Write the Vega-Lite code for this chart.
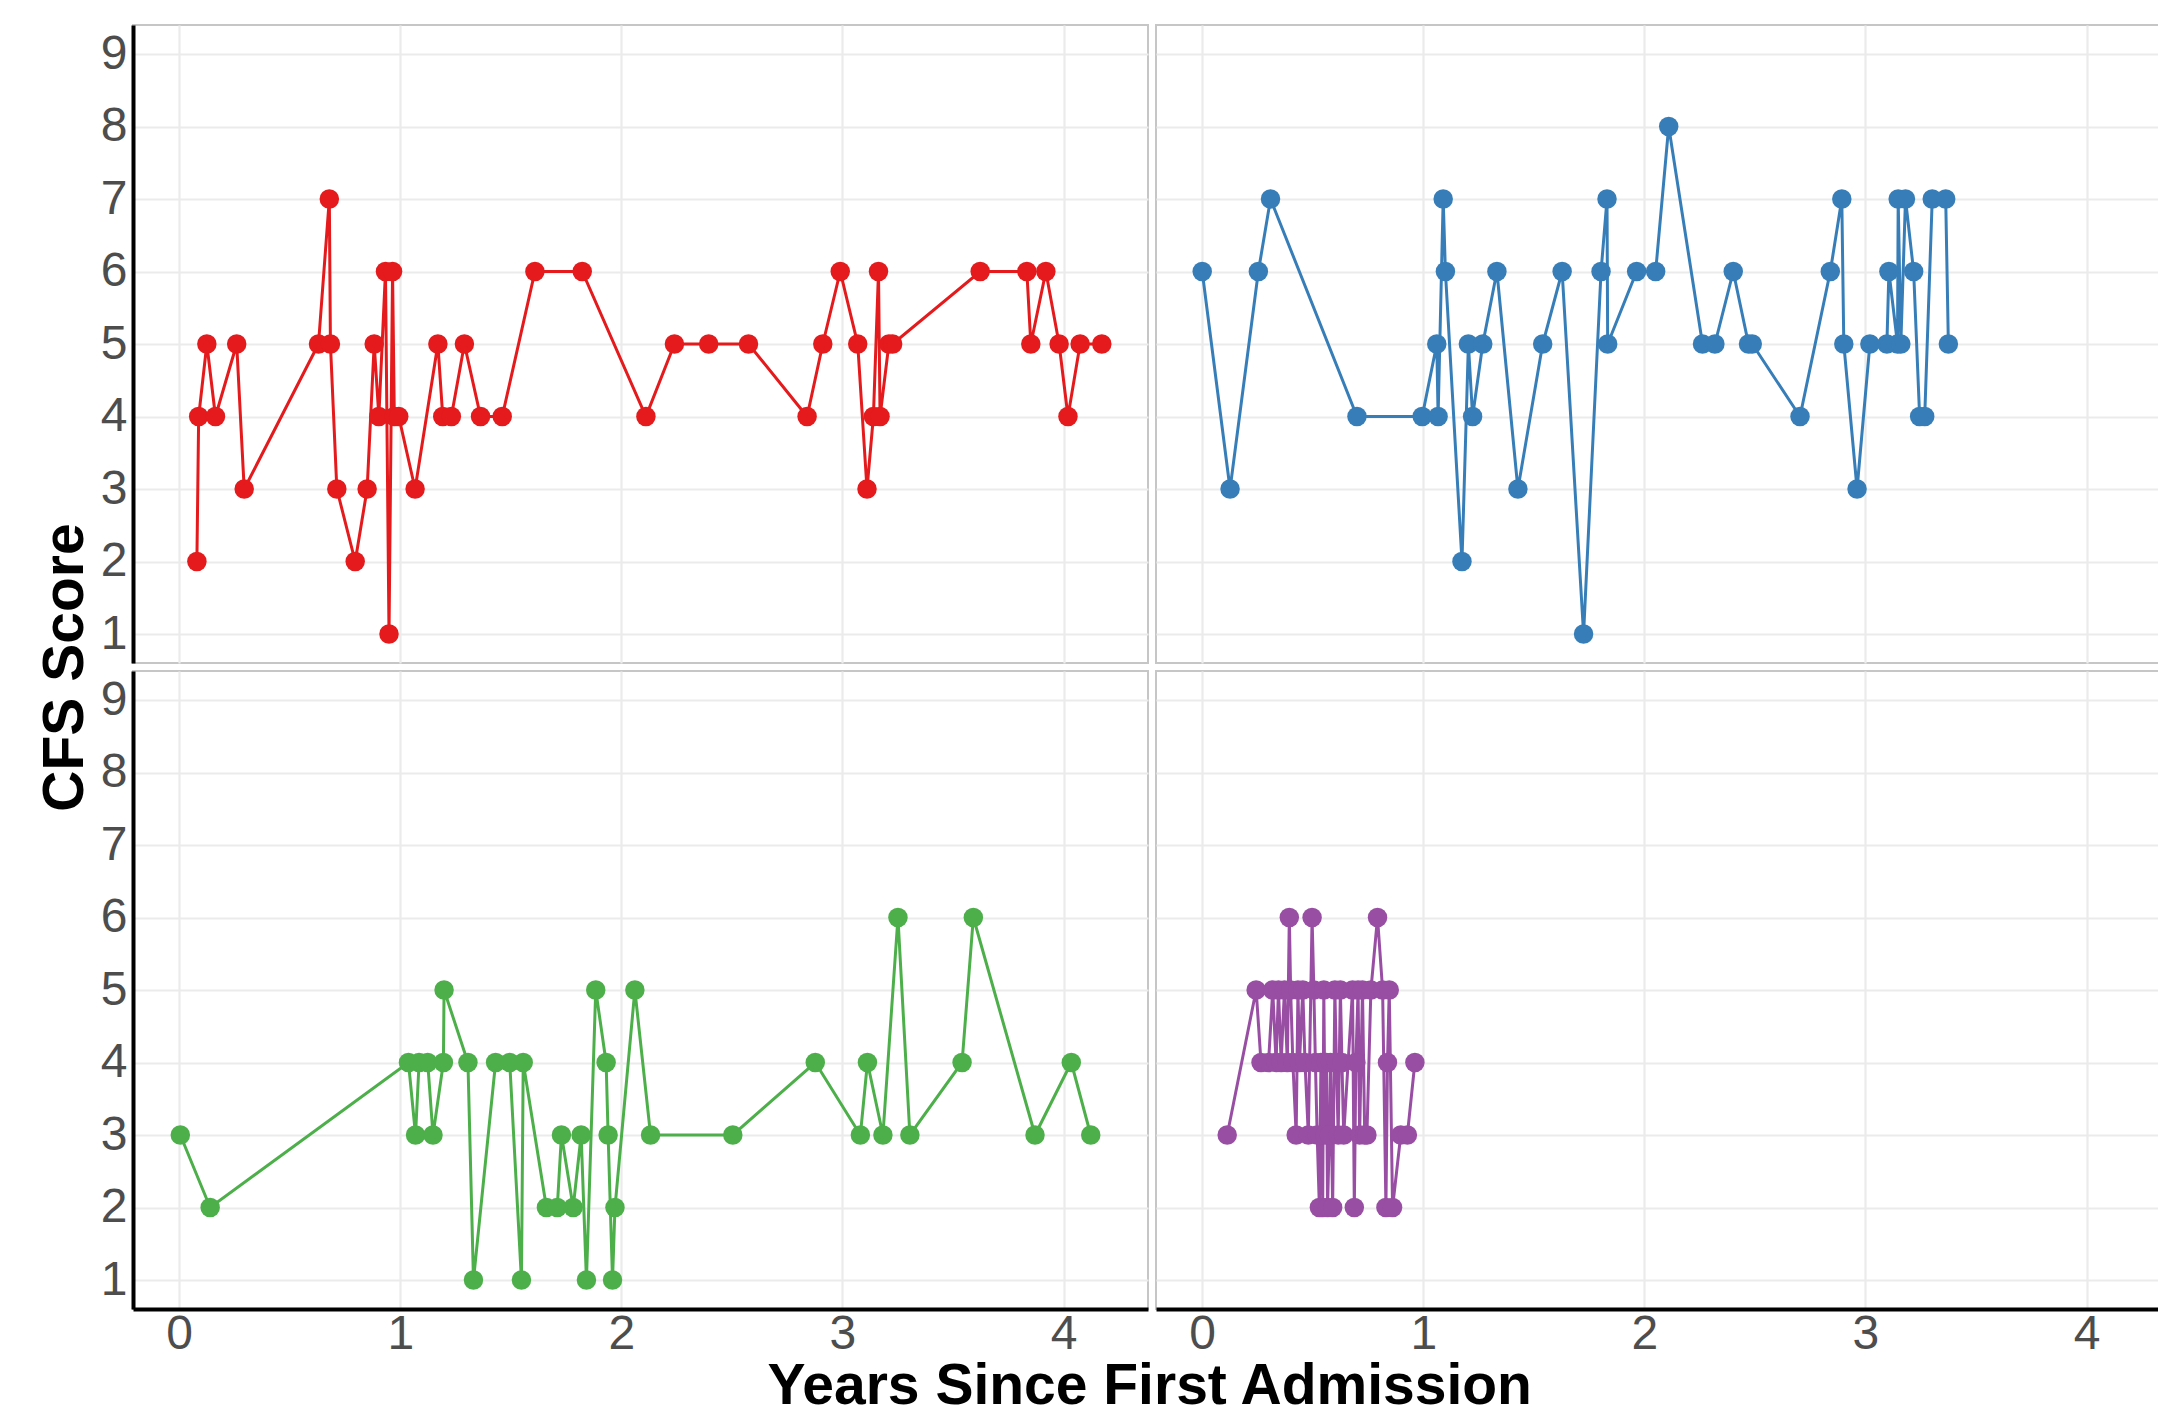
{
  "$schema": "https://vega.github.io/schema/vega-lite/v6.json",
  "background": "white",
  "padding": {"left": 37, "top": 24, "right": 0, "bottom": 0},
  "config": {
    "view": {"stroke": "#C6C6C6", "strokeWidth": 2},
    "font": "Liberation Sans",
    "axis": {
      "labelFont": "Liberation Sans",
      "labelFontSize": 48,
      "labelColor": "#4D4D4D",
      "ticks": false,
      "tickSize": 0,
      "domainColor": "#000000",
      "domainWidth": 4,
      "gridColor": "#EBEBEB",
      "gridWidth": 2.2,
      "labelPadding": 1,
      "title": null
    },
    "axisY": {"labelPadding": 6},
    "concat": {"spacing": 6}
  },
  "datasets": {
    "cfs": [
      {"patient": "A", "years": 0.08, "cfs": 2},
      {"patient": "A", "years": 0.088, "cfs": 4},
      {"patient": "A", "years": 0.125, "cfs": 5},
      {"patient": "A", "years": 0.164, "cfs": 4},
      {"patient": "A", "years": 0.26, "cfs": 5},
      {"patient": "A", "years": 0.294, "cfs": 3},
      {"patient": "A", "years": 0.63, "cfs": 5},
      {"patient": "A", "years": 0.679, "cfs": 7},
      {"patient": "A", "years": 0.684, "cfs": 5},
      {"patient": "A", "years": 0.713, "cfs": 3},
      {"patient": "A", "years": 0.796, "cfs": 2},
      {"patient": "A", "years": 0.85, "cfs": 3},
      {"patient": "A", "years": 0.882, "cfs": 5},
      {"patient": "A", "years": 0.903, "cfs": 4},
      {"patient": "A", "years": 0.933, "cfs": 6},
      {"patient": "A", "years": 0.949, "cfs": 1},
      {"patient": "A", "years": 0.965, "cfs": 6},
      {"patient": "A", "years": 0.973, "cfs": 4},
      {"patient": "A", "years": 0.993, "cfs": 4},
      {"patient": "A", "years": 1.067, "cfs": 3},
      {"patient": "A", "years": 1.17, "cfs": 5},
      {"patient": "A", "years": 1.192, "cfs": 4},
      {"patient": "A", "years": 1.231, "cfs": 4},
      {"patient": "A", "years": 1.29, "cfs": 5},
      {"patient": "A", "years": 1.363, "cfs": 4},
      {"patient": "A", "years": 1.461, "cfs": 4},
      {"patient": "A", "years": 1.609, "cfs": 6},
      {"patient": "A", "years": 1.823, "cfs": 6},
      {"patient": "A", "years": 2.111, "cfs": 4},
      {"patient": "A", "years": 2.24, "cfs": 5},
      {"patient": "A", "years": 2.395, "cfs": 5},
      {"patient": "A", "years": 2.575, "cfs": 5},
      {"patient": "A", "years": 2.84, "cfs": 4},
      {"patient": "A", "years": 2.911, "cfs": 5},
      {"patient": "A", "years": 2.99, "cfs": 6},
      {"patient": "A", "years": 3.069, "cfs": 5},
      {"patient": "A", "years": 3.111, "cfs": 3},
      {"patient": "A", "years": 3.14, "cfs": 4},
      {"patient": "A", "years": 3.163, "cfs": 6},
      {"patient": "A", "years": 3.17, "cfs": 4},
      {"patient": "A", "years": 3.21, "cfs": 5},
      {"patient": "A", "years": 3.227, "cfs": 5},
      {"patient": "A", "years": 3.623, "cfs": 6},
      {"patient": "A", "years": 3.834, "cfs": 6},
      {"patient": "A", "years": 3.852, "cfs": 5},
      {"patient": "A", "years": 3.92, "cfs": 6},
      {"patient": "A", "years": 3.98, "cfs": 5},
      {"patient": "A", "years": 4.02, "cfs": 4},
      {"patient": "A", "years": 4.075, "cfs": 5},
      {"patient": "A", "years": 4.173, "cfs": 5},
      {"patient": "B", "years": 0.0, "cfs": 6},
      {"patient": "B", "years": 0.126, "cfs": 3},
      {"patient": "B", "years": 0.254, "cfs": 6},
      {"patient": "B", "years": 0.309, "cfs": 7},
      {"patient": "B", "years": 0.70, "cfs": 4},
      {"patient": "B", "years": 0.995, "cfs": 4},
      {"patient": "B", "years": 1.061, "cfs": 5},
      {"patient": "B", "years": 1.067, "cfs": 4},
      {"patient": "B", "years": 1.09, "cfs": 7},
      {"patient": "B", "years": 1.10, "cfs": 6},
      {"patient": "B", "years": 1.175, "cfs": 2},
      {"patient": "B", "years": 1.204, "cfs": 5},
      {"patient": "B", "years": 1.223, "cfs": 4},
      {"patient": "B", "years": 1.269, "cfs": 5},
      {"patient": "B", "years": 1.333, "cfs": 6},
      {"patient": "B", "years": 1.428, "cfs": 3},
      {"patient": "B", "years": 1.54, "cfs": 5},
      {"patient": "B", "years": 1.628, "cfs": 6},
      {"patient": "B", "years": 1.725, "cfs": 1},
      {"patient": "B", "years": 1.804, "cfs": 6},
      {"patient": "B", "years": 1.831, "cfs": 7},
      {"patient": "B", "years": 1.834, "cfs": 5},
      {"patient": "B", "years": 1.965, "cfs": 6},
      {"patient": "B", "years": 2.051, "cfs": 6},
      {"patient": "B", "years": 2.11, "cfs": 8},
      {"patient": "B", "years": 2.263, "cfs": 5},
      {"patient": "B", "years": 2.319, "cfs": 5},
      {"patient": "B", "years": 2.402, "cfs": 6},
      {"patient": "B", "years": 2.471, "cfs": 5},
      {"patient": "B", "years": 2.488, "cfs": 5},
      {"patient": "B", "years": 2.704, "cfs": 4},
      {"patient": "B", "years": 2.841, "cfs": 6},
      {"patient": "B", "years": 2.893, "cfs": 7},
      {"patient": "B", "years": 2.902, "cfs": 5},
      {"patient": "B", "years": 2.962, "cfs": 3},
      {"patient": "B", "years": 3.02, "cfs": 5},
      {"patient": "B", "years": 3.097, "cfs": 5},
      {"patient": "B", "years": 3.106, "cfs": 6},
      {"patient": "B", "years": 3.145, "cfs": 5},
      {"patient": "B", "years": 3.148, "cfs": 7},
      {"patient": "B", "years": 3.16, "cfs": 5},
      {"patient": "B", "years": 3.181, "cfs": 7},
      {"patient": "B", "years": 3.218, "cfs": 6},
      {"patient": "B", "years": 3.245, "cfs": 4},
      {"patient": "B", "years": 3.268, "cfs": 4},
      {"patient": "B", "years": 3.302, "cfs": 7},
      {"patient": "B", "years": 3.363, "cfs": 7},
      {"patient": "B", "years": 3.375, "cfs": 5},
      {"patient": "C", "years": 0.005, "cfs": 3},
      {"patient": "C", "years": 0.14, "cfs": 2},
      {"patient": "C", "years": 1.037, "cfs": 4},
      {"patient": "C", "years": 1.069, "cfs": 3},
      {"patient": "C", "years": 1.085, "cfs": 4},
      {"patient": "C", "years": 1.124, "cfs": 4},
      {"patient": "C", "years": 1.148, "cfs": 3},
      {"patient": "C", "years": 1.195, "cfs": 4},
      {"patient": "C", "years": 1.198, "cfs": 5},
      {"patient": "C", "years": 1.306, "cfs": 4},
      {"patient": "C", "years": 1.331, "cfs": 1},
      {"patient": "C", "years": 1.431, "cfs": 4},
      {"patient": "C", "years": 1.495, "cfs": 4},
      {"patient": "C", "years": 1.548, "cfs": 1},
      {"patient": "C", "years": 1.556, "cfs": 4},
      {"patient": "C", "years": 1.661, "cfs": 2},
      {"patient": "C", "years": 1.71, "cfs": 2},
      {"patient": "C", "years": 1.729, "cfs": 3},
      {"patient": "C", "years": 1.782, "cfs": 2},
      {"patient": "C", "years": 1.818, "cfs": 3},
      {"patient": "C", "years": 1.842, "cfs": 1},
      {"patient": "C", "years": 1.884, "cfs": 5},
      {"patient": "C", "years": 1.931, "cfs": 4},
      {"patient": "C", "years": 1.94, "cfs": 3},
      {"patient": "C", "years": 1.96, "cfs": 1},
      {"patient": "C", "years": 1.971, "cfs": 2},
      {"patient": "C", "years": 2.061, "cfs": 5},
      {"patient": "C", "years": 2.132, "cfs": 3},
      {"patient": "C", "years": 2.504, "cfs": 3},
      {"patient": "C", "years": 2.877, "cfs": 4},
      {"patient": "C", "years": 3.081, "cfs": 3},
      {"patient": "C", "years": 3.113, "cfs": 4},
      {"patient": "C", "years": 3.183, "cfs": 3},
      {"patient": "C", "years": 3.251, "cfs": 6},
      {"patient": "C", "years": 3.305, "cfs": 3},
      {"patient": "C", "years": 3.541, "cfs": 4},
      {"patient": "C", "years": 3.592, "cfs": 6},
      {"patient": "C", "years": 3.871, "cfs": 3},
      {"patient": "C", "years": 4.035, "cfs": 4},
      {"patient": "C", "years": 4.123, "cfs": 3},
      {"patient": "D", "years": 0.113, "cfs": 3},
      {"patient": "D", "years": 0.244, "cfs": 5},
      {"patient": "D", "years": 0.266, "cfs": 4},
      {"patient": "D", "years": 0.30, "cfs": 4},
      {"patient": "D", "years": 0.319, "cfs": 5},
      {"patient": "D", "years": 0.334, "cfs": 4},
      {"patient": "D", "years": 0.345, "cfs": 5},
      {"patient": "D", "years": 0.357, "cfs": 4},
      {"patient": "D", "years": 0.372, "cfs": 5},
      {"patient": "D", "years": 0.385, "cfs": 4},
      {"patient": "D", "years": 0.394, "cfs": 6},
      {"patient": "D", "years": 0.40, "cfs": 5},
      {"patient": "D", "years": 0.41, "cfs": 4},
      {"patient": "D", "years": 0.425, "cfs": 3},
      {"patient": "D", "years": 0.433, "cfs": 5},
      {"patient": "D", "years": 0.44, "cfs": 4},
      {"patient": "D", "years": 0.455, "cfs": 5},
      {"patient": "D", "years": 0.465, "cfs": 4},
      {"patient": "D", "years": 0.48, "cfs": 3},
      {"patient": "D", "years": 0.497, "cfs": 6},
      {"patient": "D", "years": 0.505, "cfs": 5},
      {"patient": "D", "years": 0.512, "cfs": 4},
      {"patient": "D", "years": 0.52, "cfs": 3},
      {"patient": "D", "years": 0.53, "cfs": 2},
      {"patient": "D", "years": 0.537, "cfs": 4},
      {"patient": "D", "years": 0.545, "cfs": 2},
      {"patient": "D", "years": 0.55, "cfs": 5},
      {"patient": "D", "years": 0.556, "cfs": 3},
      {"patient": "D", "years": 0.562, "cfs": 4},
      {"patient": "D", "years": 0.567, "cfs": 2},
      {"patient": "D", "years": 0.575, "cfs": 3},
      {"patient": "D", "years": 0.58, "cfs": 4},
      {"patient": "D", "years": 0.59, "cfs": 2},
      {"patient": "D", "years": 0.60, "cfs": 5},
      {"patient": "D", "years": 0.607, "cfs": 4},
      {"patient": "D", "years": 0.615, "cfs": 3},
      {"patient": "D", "years": 0.625, "cfs": 5},
      {"patient": "D", "years": 0.632, "cfs": 4},
      {"patient": "D", "years": 0.64, "cfs": 3},
      {"patient": "D", "years": 0.68, "cfs": 5},
      {"patient": "D", "years": 0.688, "cfs": 2},
      {"patient": "D", "years": 0.695, "cfs": 4},
      {"patient": "D", "years": 0.705, "cfs": 5},
      {"patient": "D", "years": 0.712, "cfs": 3},
      {"patient": "D", "years": 0.725, "cfs": 5},
      {"patient": "D", "years": 0.735, "cfs": 3},
      {"patient": "D", "years": 0.745, "cfs": 3},
      {"patient": "D", "years": 0.763, "cfs": 5},
      {"patient": "D", "years": 0.793, "cfs": 6},
      {"patient": "D", "years": 0.816, "cfs": 5},
      {"patient": "D", "years": 0.831, "cfs": 2},
      {"patient": "D", "years": 0.838, "cfs": 4},
      {"patient": "D", "years": 0.846, "cfs": 5},
      {"patient": "D", "years": 0.861, "cfs": 2},
      {"patient": "D", "years": 0.898, "cfs": 3},
      {"patient": "D", "years": 0.928, "cfs": 3},
      {"patient": "D", "years": 0.962, "cfs": 4}
    ]
  },
  "title": {
    "text": "CFS Score",
    "orient": "left",
    "anchor": "middle",
    "fontSize": 57,
    "fontWeight": "bold",
    "color": "#000000",
    "font": "Liberation Sans",
    "offset": 4,
    "dx": 52
  },
  "vconcat": [
    {
      "title": {
        "text": "Years Since First Admission",
        "orient": "bottom",
        "anchor": "middle",
        "fontSize": 57,
        "fontWeight": "bold",
        "color": "#000000",
        "font": "Liberation Sans",
        "offset": 0,
        "dx": 14
      },
      "spacing": 6,
      "vconcat": [
        {
          "spacing": 6,
          "hconcat": [
            {
              "data": {"name": "cfs"},
              "transform": [{"filter": "datum.patient === 'A'"}],
              "width": 1015,
              "height": 638,
              "encoding": {
                "x": {"field": "years", "type": "quantitative", "scale": {"domain": [-0.209, 4.382], "nice": false, "zero": false}, "axis": {"values": [0, 1, 2, 3, 4], "labels": false, "domain": false}},
                "y": {"field": "cfs", "type": "quantitative", "scale": {"domain": [0.6, 9.4], "nice": false, "zero": false}, "axis": {"values": [1, 2, 3, 4, 5, 6, 7, 8, 9]}},
                "color": {"field": "patient", "type": "nominal", "scale": {"domain": ["A", "B", "C", "D"], "range": ["#E41A1C", "#377EB8", "#4DAF4A", "#984EA3"]}, "legend": null}
              },
              "layer": [
                {"mark": {"type": "line", "strokeWidth": 3}},
                {"mark": {"type": "point", "filled": true, "size": 380, "opacity": 1}}
              ]
            },
            {
              "data": {"name": "cfs"},
              "transform": [{"filter": "datum.patient === 'B'"}],
              "width": 1015,
              "height": 638,
              "encoding": {
                "x": {"field": "years", "type": "quantitative", "scale": {"domain": [-0.209, 4.382], "nice": false, "zero": false}, "axis": {"values": [0, 1, 2, 3, 4], "labels": false, "domain": false}},
                "y": {"field": "cfs", "type": "quantitative", "scale": {"domain": [0.6, 9.4], "nice": false, "zero": false}, "axis": {"values": [1, 2, 3, 4, 5, 6, 7, 8, 9], "labels": false, "domain": false}},
                "color": {"field": "patient", "type": "nominal", "scale": {"domain": ["A", "B", "C", "D"], "range": ["#E41A1C", "#377EB8", "#4DAF4A", "#984EA3"]}, "legend": null}
              },
              "layer": [
                {"mark": {"type": "line", "strokeWidth": 3}},
                {"mark": {"type": "point", "filled": true, "size": 380, "opacity": 1}}
              ]
            }
          ]
        },
        {
          "spacing": 6,
          "hconcat": [
            {
              "data": {"name": "cfs"},
              "transform": [{"filter": "datum.patient === 'C'"}],
              "width": 1015,
              "height": 638,
              "encoding": {
                "x": {"field": "years", "type": "quantitative", "scale": {"domain": [-0.209, 4.382], "nice": false, "zero": false}, "axis": {"values": [0, 1, 2, 3, 4]}},
                "y": {"field": "cfs", "type": "quantitative", "scale": {"domain": [0.6, 9.4], "nice": false, "zero": false}, "axis": {"values": [1, 2, 3, 4, 5, 6, 7, 8, 9]}},
                "color": {"field": "patient", "type": "nominal", "scale": {"domain": ["A", "B", "C", "D"], "range": ["#E41A1C", "#377EB8", "#4DAF4A", "#984EA3"]}, "legend": null}
              },
              "layer": [
                {"mark": {"type": "line", "strokeWidth": 3}},
                {"mark": {"type": "point", "filled": true, "size": 380, "opacity": 1}}
              ]
            },
            {
              "data": {"name": "cfs"},
              "transform": [{"filter": "datum.patient === 'D'"}],
              "width": 1015,
              "height": 638,
              "encoding": {
                "x": {"field": "years", "type": "quantitative", "scale": {"domain": [-0.209, 4.382], "nice": false, "zero": false}, "axis": {"values": [0, 1, 2, 3, 4]}},
                "y": {"field": "cfs", "type": "quantitative", "scale": {"domain": [0.6, 9.4], "nice": false, "zero": false}, "axis": {"values": [1, 2, 3, 4, 5, 6, 7, 8, 9], "labels": false, "domain": false}},
                "color": {"field": "patient", "type": "nominal", "scale": {"domain": ["A", "B", "C", "D"], "range": ["#E41A1C", "#377EB8", "#4DAF4A", "#984EA3"]}, "legend": null}
              },
              "layer": [
                {"mark": {"type": "line", "strokeWidth": 3}},
                {"mark": {"type": "point", "filled": true, "size": 380, "opacity": 1}}
              ]
            }
          ]
        }
      ]
    }
  ]
}
